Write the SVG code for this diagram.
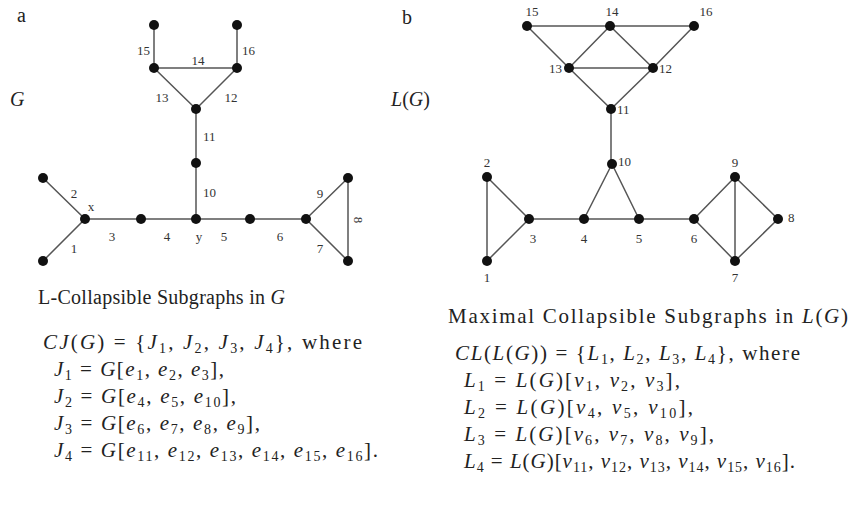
<svg xmlns="http://www.w3.org/2000/svg" width="850" height="505" viewBox="0 0 850 505">
<style>
.e{stroke:#555;stroke-width:1.5;fill:none}
.n{fill:#111}
.lb{font-family:"Liberation Serif",serif;font-size:13px;fill:#333}
.t{font-family:"Liberation Serif",serif;font-size:20px;fill:#222}
.m{font-size:21px}
.i{font-style:italic}
.s{font-size:14px}
</style>
<rect width="850" height="505" fill="#fff"/>
<text class="t" x="17" y="22">a</text>
<text class="t i" x="10" y="106">G</text>
<text class="t" x="402" y="24">b</text>
<text class="t" x="391" y="106"><tspan class="i">L</tspan>(<tspan class="i">G</tspan>)</text>
<g id="connectors">
<path class="e" d="M154,25V68M237,25V68M154,68H237M154,68L196,109M237,68L196,109M196,109V219M43,178L85,219M43,261L85,219M85,219H306M306,219L348,178M306,219L348,261M348,178V261"/>
<path class="e" d="M527,26H694M527,26L569,68M610,26L569,68M610,26L653,68M694,26L653,68M569,68H653M569,68L611,109M653,68L611,109M611,109V164M612,164L584,219M612,164L639,219M529,219H694M487,177V261M487,177L529,219M487,261L529,219M694,219L735,177M694,219L735,261M735,177V261M735,177L778,219M735,261L778,219"/>
</g>
<g id="G">
<g id="g15"><circle class="n" cx="154" cy="25" r="5"/><text class="lb" x="150" y="55" text-anchor="end">15</text></g>
<g id="g16"><circle class="n" cx="237" cy="25" r="5"/><text class="lb" x="242" y="55">16</text></g>
<g id="g13"><circle class="n" cx="154" cy="68" r="5"/><text class="lb" x="162" y="102" text-anchor="middle">13</text></g>
<g id="g12"><circle class="n" cx="237" cy="68" r="5"/><text class="lb" x="231" y="102" text-anchor="middle">12</text></g>
<text class="lb" x="198" y="65" text-anchor="middle">14</text>
<g id="gc"><circle class="n" cx="196" cy="109" r="5"/><text class="lb" x="203" y="141">11</text></g>
<g id="gm"><circle class="n" cx="196" cy="163" r="5"/><text class="lb" x="203" y="197">10</text></g>
<g id="gy"><circle class="n" cx="196" cy="219" r="5"/><text class="lb" x="199" y="241" text-anchor="middle">y</text></g>
<g id="gx"><circle class="n" cx="85" cy="219" r="5"/><text class="lb" x="91" y="211" text-anchor="middle">x</text></g>
<g id="g2"><circle class="n" cx="43" cy="178" r="5"/><text class="lb" x="74" y="198" text-anchor="middle">2</text></g>
<g id="g1"><circle class="n" cx="43" cy="261" r="5"/><text class="lb" x="74" y="253" text-anchor="middle">1</text></g>
<g id="ga"><circle class="n" cx="141" cy="219" r="5"/><text class="lb" x="112" y="241" text-anchor="middle">3</text><text class="lb" x="167" y="241" text-anchor="middle">4</text></g>
<g id="gb"><circle class="n" cx="250" cy="219" r="5"/><text class="lb" x="224" y="241" text-anchor="middle">5</text><text class="lb" x="280" y="241" text-anchor="middle">6</text></g>
<g id="gt"><circle class="n" cx="306" cy="219" r="5"/></g>
<g id="g9"><circle class="n" cx="348" cy="178" r="5"/><text class="lb" x="320" y="198" text-anchor="middle">9</text></g>
<g id="g7"><circle class="n" cx="348" cy="261" r="5"/><text class="lb" x="320" y="253" text-anchor="middle">7</text><text class="lb" x="0" y="0" text-anchor="middle" transform="translate(354,220) rotate(90)">8</text></g>
</g>
<g id="LG">
<g id="v15"><circle class="n" cx="527" cy="26" r="5"/><text class="lb" x="532" y="16" text-anchor="middle">15</text></g>
<g id="v14"><circle class="n" cx="610" cy="26" r="5"/><text class="lb" x="612" y="16" text-anchor="middle">14</text></g>
<g id="v16"><circle class="n" cx="694" cy="26" r="5"/><text class="lb" x="706" y="16" text-anchor="middle">16</text></g>
<g id="v13"><circle class="n" cx="569" cy="68" r="5"/><text class="lb" x="562" y="73" text-anchor="end">13</text></g>
<g id="v12"><circle class="n" cx="653" cy="68" r="5"/><text class="lb" x="659" y="73">12</text></g>
<g id="v11"><circle class="n" cx="611" cy="109" r="5"/><text class="lb" x="617" y="114">11</text></g>
<g id="v10"><circle class="n" cx="612" cy="164" r="5"/><text class="lb" x="618" y="166">10</text></g>
<g id="v2"><circle class="n" cx="487" cy="177" r="5"/><text class="lb" x="487" y="167" text-anchor="middle">2</text></g>
<g id="v1"><circle class="n" cx="487" cy="261" r="5"/><text class="lb" x="487" y="282" text-anchor="middle">1</text></g>
<g id="v3"><circle class="n" cx="529" cy="219" r="5"/><text class="lb" x="533" y="243" text-anchor="middle">3</text></g>
<g id="v4"><circle class="n" cx="584" cy="219" r="5"/><text class="lb" x="584" y="243" text-anchor="middle">4</text></g>
<g id="v5"><circle class="n" cx="639" cy="219" r="5"/><text class="lb" x="639" y="243" text-anchor="middle">5</text></g>
<g id="v6"><circle class="n" cx="694" cy="219" r="5"/><text class="lb" x="694" y="243" text-anchor="middle">6</text></g>
<g id="v9"><circle class="n" cx="735" cy="177" r="5"/><text class="lb" x="735" y="167" text-anchor="middle">9</text></g>
<g id="v7"><circle class="n" cx="735" cy="261" r="5"/><text class="lb" x="735" y="282" text-anchor="middle">7</text></g>
<g id="v8"><circle class="n" cx="778" cy="219" r="5"/><text class="lb" x="788" y="222">8</text></g>
</g>
<g id="textA">
<text class="t" x="38" y="304" textLength="247">L-Collapsible Subgraphs in <tspan class="i">G</tspan></text>
<text class="t m" x="43" y="349" textLength="319"><tspan class="i">CJ</tspan>(<tspan class="i">G</tspan>) = {<tspan class="i">J</tspan><tspan class="s" dy="4">1</tspan><tspan dy="-4">, </tspan><tspan class="i">J</tspan><tspan class="s" dy="4">2</tspan><tspan dy="-4">, </tspan><tspan class="i">J</tspan><tspan class="s" dy="4">3</tspan><tspan dy="-4">, </tspan><tspan class="i">J</tspan><tspan class="s" dy="4">4</tspan><tspan dy="-4">}, where</tspan></text>
<text class="t m" x="54" y="376" textLength="170"><tspan class="i">J</tspan><tspan class="s" dy="4">1</tspan><tspan dy="-4"> = </tspan><tspan class="i">G</tspan>[<tspan class="i">e</tspan><tspan class="s" dy="4">1</tspan><tspan dy="-4">, </tspan><tspan class="i">e</tspan><tspan class="s" dy="4">2</tspan><tspan dy="-4">, </tspan><tspan class="i">e</tspan><tspan class="s" dy="4">3</tspan><tspan dy="-4">],</tspan></text>
<text class="t m" x="54" y="403" textLength="182"><tspan class="i">J</tspan><tspan class="s" dy="4">2</tspan><tspan dy="-4"> = </tspan><tspan class="i">G</tspan>[<tspan class="i">e</tspan><tspan class="s" dy="4">4</tspan><tspan dy="-4">, </tspan><tspan class="i">e</tspan><tspan class="s" dy="4">5</tspan><tspan dy="-4">, </tspan><tspan class="i">e</tspan><tspan class="s" dy="4">10</tspan><tspan dy="-4">],</tspan></text>
<text class="t m" x="54" y="430" textLength="206"><tspan class="i">J</tspan><tspan class="s" dy="4">3</tspan><tspan dy="-4"> = </tspan><tspan class="i">G</tspan>[<tspan class="i">e</tspan><tspan class="s" dy="4">6</tspan><tspan dy="-4">, </tspan><tspan class="i">e</tspan><tspan class="s" dy="4">7</tspan><tspan dy="-4">, </tspan><tspan class="i">e</tspan><tspan class="s" dy="4">8</tspan><tspan dy="-4">, </tspan><tspan class="i">e</tspan><tspan class="s" dy="4">9</tspan><tspan dy="-4">],</tspan></text>
<text class="t m" x="54" y="457" textLength="324"><tspan class="i">J</tspan><tspan class="s" dy="4">4</tspan><tspan dy="-4"> = </tspan><tspan class="i">G</tspan>[<tspan class="i">e</tspan><tspan class="s" dy="4">11</tspan><tspan dy="-4">, </tspan><tspan class="i">e</tspan><tspan class="s" dy="4">12</tspan><tspan dy="-4">, </tspan><tspan class="i">e</tspan><tspan class="s" dy="4">13</tspan><tspan dy="-4">, </tspan><tspan class="i">e</tspan><tspan class="s" dy="4">14</tspan><tspan dy="-4">, </tspan><tspan class="i">e</tspan><tspan class="s" dy="4">15</tspan><tspan dy="-4">, </tspan><tspan class="i">e</tspan><tspan class="s" dy="4">16</tspan><tspan dy="-4">].</tspan></text>
</g>
<g id="textB">
<text class="t m" x="448" y="323" textLength="400">Maximal Collapsible Subgraphs in <tspan class="i">L</tspan>(<tspan class="i">G</tspan>)</text>
<text class="t m" x="455" y="360" textLength="345"><tspan class="i">CL</tspan>(<tspan class="i">L</tspan>(<tspan class="i">G</tspan>)) = {<tspan class="i">L</tspan><tspan class="s" dy="4">1</tspan><tspan dy="-4">, </tspan><tspan class="i">L</tspan><tspan class="s" dy="4">2</tspan><tspan dy="-4">, </tspan><tspan class="i">L</tspan><tspan class="s" dy="4">3</tspan><tspan dy="-4">, </tspan><tspan class="i">L</tspan><tspan class="s" dy="4">4</tspan><tspan dy="-4">}, where</tspan></text>
<text class="t m" x="464" y="387" textLength="216"><tspan class="i">L</tspan><tspan class="s" dy="4">1</tspan><tspan dy="-4"> = </tspan><tspan class="i">L</tspan>(<tspan class="i">G</tspan>)[<tspan class="i">v</tspan><tspan class="s" dy="4">1</tspan><tspan dy="-4">, </tspan><tspan class="i">v</tspan><tspan class="s" dy="4">2</tspan><tspan dy="-4">, </tspan><tspan class="i">v</tspan><tspan class="s" dy="4">3</tspan><tspan dy="-4">],</tspan></text>
<text class="t m" x="464" y="414" textLength="229"><tspan class="i">L</tspan><tspan class="s" dy="4">2</tspan><tspan dy="-4"> = </tspan><tspan class="i">L</tspan>(<tspan class="i">G</tspan>)[<tspan class="i">v</tspan><tspan class="s" dy="4">4</tspan><tspan dy="-4">, </tspan><tspan class="i">v</tspan><tspan class="s" dy="4">5</tspan><tspan dy="-4">, </tspan><tspan class="i">v</tspan><tspan class="s" dy="4">10</tspan><tspan dy="-4">],</tspan></text>
<text class="t m" x="464" y="441" textLength="250"><tspan class="i">L</tspan><tspan class="s" dy="4">3</tspan><tspan dy="-4"> = </tspan><tspan class="i">L</tspan>(<tspan class="i">G</tspan>)[<tspan class="i">v</tspan><tspan class="s" dy="4">6</tspan><tspan dy="-4">, </tspan><tspan class="i">v</tspan><tspan class="s" dy="4">7</tspan><tspan dy="-4">, </tspan><tspan class="i">v</tspan><tspan class="s" dy="4">8</tspan><tspan dy="-4">, </tspan><tspan class="i">v</tspan><tspan class="s" dy="4">9</tspan><tspan dy="-4">],</tspan></text>
<text class="t m" x="464" y="468" textLength="331"><tspan class="i">L</tspan><tspan class="s" dy="4">4</tspan><tspan dy="-4"> = </tspan><tspan class="i">L</tspan>(<tspan class="i">G</tspan>)[<tspan class="i">v</tspan><tspan class="s" dy="4">11</tspan><tspan dy="-4">, </tspan><tspan class="i">v</tspan><tspan class="s" dy="4">12</tspan><tspan dy="-4">, </tspan><tspan class="i">v</tspan><tspan class="s" dy="4">13</tspan><tspan dy="-4">, </tspan><tspan class="i">v</tspan><tspan class="s" dy="4">14</tspan><tspan dy="-4">, </tspan><tspan class="i">v</tspan><tspan class="s" dy="4">15</tspan><tspan dy="-4">, </tspan><tspan class="i">v</tspan><tspan class="s" dy="4">16</tspan><tspan dy="-4">].</tspan></text>
</g>
</svg>
